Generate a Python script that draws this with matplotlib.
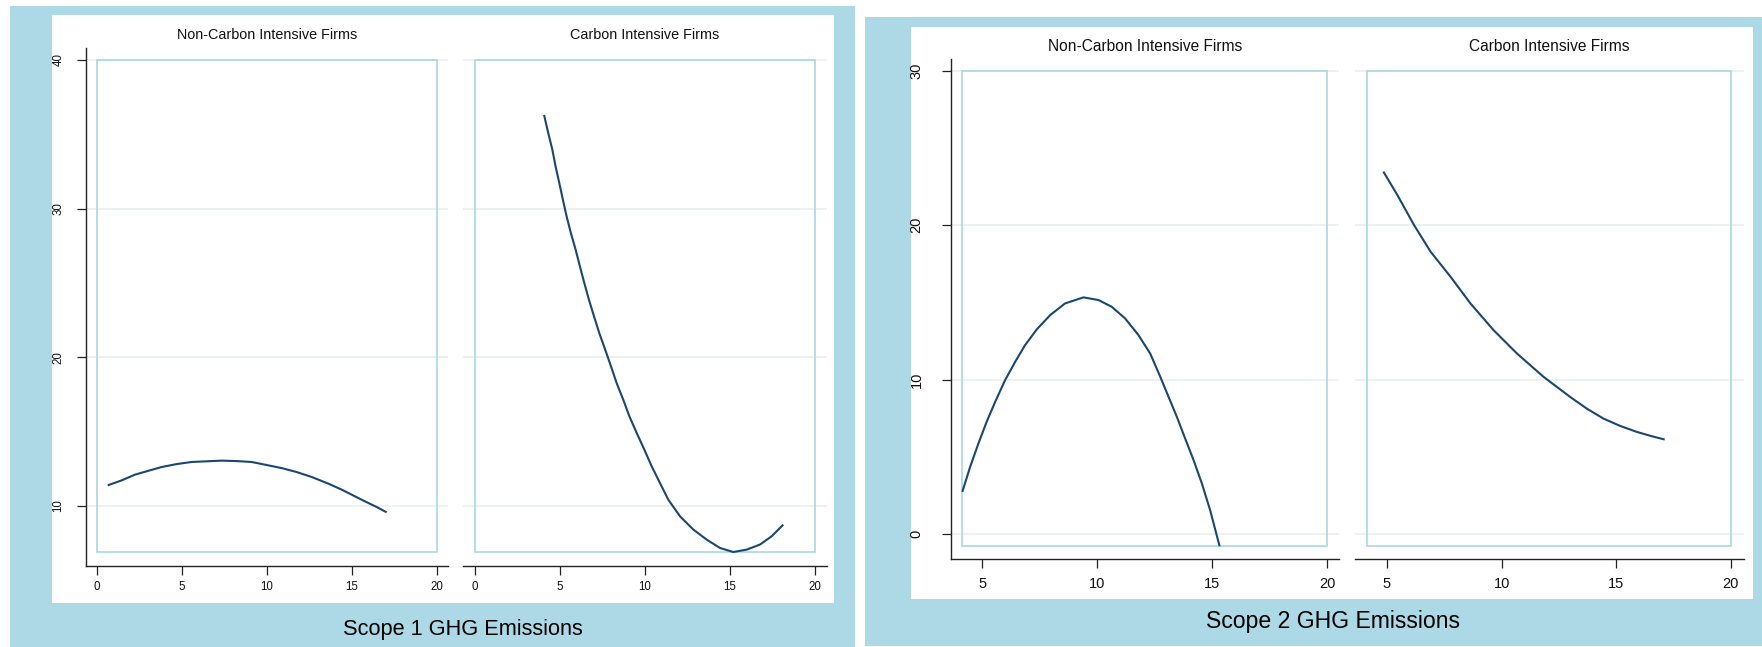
import matplotlib
matplotlib.use('Agg')
import matplotlib.pyplot as plt
from matplotlib.patches import Rectangle

plt.rcParams['font.family'] = ['Liberation Sans', 'DejaVu Sans']

W, H = 1762, 647

# values
s1_non_x = [0.63, 1.45, 2.24, 3.80, 4.69, 5.57, 7.33, 8.22, 9.10, 10.86, 11.75,
            12.63, 13.61, 14.39, 15.76, 16.45, 17.04]
s1_non_y = [11.37, 11.70, 12.09, 12.60, 12.80, 12.94, 13.03, 13.00, 12.94, 12.53, 12.26,
            11.93, 11.48, 11.08, 10.29, 9.91, 9.55]
s1_car_x = [4.08, 4.33, 4.57, 4.76, 4.98, 5.19, 5.41, 5.66, 5.94, 6.19, 6.45, 6.72,
            7.02, 7.33, 7.68, 8.02, 8.35, 8.74, 9.10, 9.53, 9.98, 10.41, 10.90, 11.39,
            12.08, 12.86, 13.65, 14.43, 15.21, 16.00, 16.78, 17.47, 18.15]
s1_car_y = [36.30, 35.07, 33.95, 32.82, 31.70, 30.58, 29.46, 28.34, 27.22, 26.10, 24.98, 23.86,
            22.74, 21.61, 20.49, 19.37, 18.25, 17.13, 16.01, 14.89, 13.77, 12.65, 11.52, 10.40,
            9.28, 8.39, 7.71, 7.15, 6.88, 7.04, 7.38, 7.94, 8.72]
s2_non_x = [4.14, 4.48, 4.84, 5.20, 5.57, 6.00, 6.44, 6.87, 7.38, 7.96, 8.61, 9.41, 10.06,
            10.64, 11.22, 11.80, 12.31, 12.75, 13.11, 13.47, 13.83, 14.20, 14.56, 14.92, 15.33]
s2_non_y = [2.74, 4.36, 5.87, 7.28, 8.57, 9.97, 11.16, 12.24, 13.26, 14.18, 14.94, 15.33, 15.16,
            14.72, 13.97, 12.89, 11.70, 10.19, 8.89, 7.60, 6.20, 4.79, 3.28, 1.55, -0.78]
s2_car_x = [4.84, 5.45, 6.18, 6.90, 7.77, 8.64, 9.65, 10.67, 11.83, 12.99, 13.71, 14.44,
            15.16, 15.89, 16.54, 17.12]
s2_car_y = [23.47, 21.96, 20.01, 18.29, 16.67, 14.94, 13.21, 11.70, 10.19, 8.89, 8.14, 7.49,
            7.02, 6.63, 6.35, 6.13]

s1_xticks = [0, 5, 10, 15, 20]
s1_yticks = [10, 20, 30, 40]
s2_xticks = [5, 10, 15, 20]
s2_yticks = [0, 10, 20, 30]

titles = ['Non-Carbon Intensive Firms', 'Carbon Intensive Firms']
captions = ['Scope 1 GHG Emissions', 'Scope 2 GHG Emissions']

BG = '#add8e6'
LINE = '#1a476f'
GRID = '#eaf1f3'
BOX = '#a9d7e4'

fig = plt.figure(figsize=(W / 100, H / 100), dpi=100)
fig.patch.set_facecolor('white')


def px_rect(x0, y0, x1, y1, color):
    fig.add_artist(Rectangle((x0 / W, 1 - y1 / H), (x1 - x0) / W, (y1 - y0) / H,
                             transform=fig.transFigure, fc=color, ec='none', zorder=0))


def data_range(vals, ticks):
    return min(min(vals), ticks[0]), max(max(vals), ticks[-1])


def make_axes(ax_box, plot_box, xr, yr):
    ax0, ax1, atop, abot = ax_box
    bx0, bx1, btop, bbot = plot_box
    kx = (bx1 - bx0) / (xr[1] - xr[0])
    ky = (bbot - btop) / (yr[1] - yr[0])
    ax = fig.add_axes([ax0 / W, 1 - abot / H, (ax1 - ax0) / W, (abot - atop) / H])
    ax.set_xlim(xr[0] - (bx0 - ax0) / kx, xr[1] + (ax1 - bx1) / kx)
    ax.set_ylim(yr[0] - (abot - bbot) / ky, yr[1] + (btop - atop) / ky)
    ax.patch.set_alpha(0)
    return ax


def style(ax, xr, yr, xticks, yticks, first, fs, ypad, xpad):
    ax.add_patch(Rectangle((xr[0], yr[0]), xr[1] - xr[0], yr[1] - yr[0],
                           fill=False, ec=BOX, lw=1.2, zorder=1, clip_on=False))
    ax.set_xticks(xticks)
    ax.set_yticks(yticks)
    ax.yaxis.grid(True, color=GRID, lw=1.3)
    ax.set_axisbelow(True)
    for s in ['top', 'right']:
        ax.spines[s].set_visible(False)
    ax.spines['bottom'].set_color('#222222')
    ax.spines['bottom'].set_linewidth(1.0)
    ax.tick_params(axis='x', direction='out', length=6.5, width=0.9, color='#222222',
                   labelsize=fs, pad=xpad, labelcolor='#111111')
    if first:
        ax.spines['left'].set_color('#222222')
        ax.spines['left'].set_linewidth(1.0)
        ax.tick_params(axis='y', direction='out', length=6.5, width=0.9, color='#222222',
                       labelsize=fs, pad=ypad, labelcolor='#111111', labelrotation=90)
        for lab in ax.get_yticklabels():
            lab.set_verticalalignment('center')
    else:
        ax.spines['left'].set_visible(False)
        ax.tick_params(axis='y', left=False, labelleft=False)


# backgrounds
px_rect(10, 6, 855, 647, BG)
px_rect(52, 15, 834, 603, 'white')
px_rect(865, 17, 1762, 646, BG)
px_rect(911, 27, 1753, 599, 'white')

# Scope 1
xr1 = data_range(s1_non_x + s1_car_x, s1_xticks)
yr1 = data_range(s1_non_y + s1_car_y, s1_yticks)
s1_layout = [((86, 448, 48, 566), (97, 437, 60, 552)),
             ((463, 827, 48, 566), (474.7, 814.7, 60, 552))]
s1_series = [(s1_non_x, s1_non_y), (s1_car_x, s1_car_y)]
for i, ((abox, pbox), (xs, ys)) in enumerate(zip(s1_layout, s1_series)):
    ax = make_axes(abox, pbox, xr1, yr1)
    style(ax, xr1, yr1, s1_xticks, s1_yticks, i == 0, 8.3, 9, 4)
    ax.plot(xs, ys, color=LINE, lw=1.5, zorder=3, solid_capstyle='butt')
    fig.text((pbox[0] + pbox[1]) / 2 / W, 1 - 35 / H, titles[i], ha='center', va='center',
             fontsize=10.4, color='#111111')
fig.text(463 / W, 1 - 630 / H, captions[0], ha='center', va='center', fontsize=15.7, color='black')

# Scope 2
xr2 = data_range(s2_non_x + s2_car_x, s2_xticks)
yr2 = data_range(s2_non_y + s2_car_y, s2_yticks)
s2_layout = [((950.7, 1339, 59, 559.3), (962.3, 1327, 70.7, 546.3)),
             ((1355, 1744, 59, 559.3), (1367.3, 1730.7, 70.7, 546.3))]
s2_series = [(s2_non_x, s2_non_y), (s2_car_x, s2_car_y)]
for i, ((abox, pbox), (xs, ys)) in enumerate(zip(s2_layout, s2_series)):
    ax = make_axes(abox, pbox, xr2, yr2)
    style(ax, xr2, yr2, s2_xticks, s2_yticks, i == 0, 10.5, 13, 6)
    ax.plot(xs, ys, color=LINE, lw=1.5, zorder=3, solid_capstyle='butt')
    fig.text((pbox[0] + pbox[1]) / 2 / W, 1 - 46.7 / H, titles[i], ha='center', va='center',
             fontsize=11.2, color='#111111')
fig.text(1333 / W, 1 - 621.7 / H, captions[1], ha='center', va='center', fontsize=16.6, color='black')

fig.savefig('out.png', dpi=100)
